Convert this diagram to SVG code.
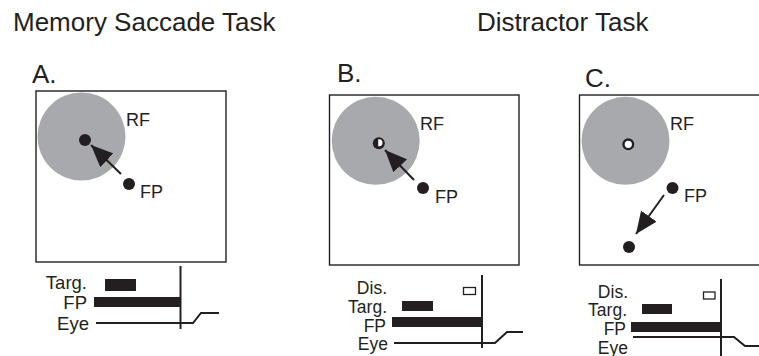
<svg xmlns="http://www.w3.org/2000/svg" width="759" height="356" viewBox="0 0 759 356">
  <style>
    text { font-family: "Liberation Sans", Arial, Helvetica, sans-serif; fill: #231f20; }
    .title { font-size: 26px; }
    .panel { font-size: 26px; }
    .lbl { font-size: 18px; }
    .tl { font-size: 18.5px; text-anchor: end; }
    .tls { font-size: 17.5px; text-anchor: end; }
    .frame { fill: #ffffff; stroke: #231f20; stroke-width: 1.4; }
    .rf { fill: #a7a9ac; }
    .dot { fill: #231f20; }
    .bar { fill: #231f20; }
    .trace { fill: none; stroke: #231f20; stroke-width: 2; }
    .arrow { fill: none; stroke: #231f20; stroke-width: 2; marker-end: url(#head); }
  </style>
  <defs>
    <marker id="head" viewBox="0 0 22 19" refX="22" refY="9.5" markerWidth="22" markerHeight="19" markerUnits="userSpaceOnUse" orient="auto">
      <path d="M0,0 L22,9.5 L0,19 z" fill="#231f20"/>
    </marker>
  </defs>
  <rect width="759" height="356" fill="#ffffff"/>

  <!-- headings -->
  <text class="title" x="13" y="31">Memory Saccade Task</text>
  <text class="title" x="477" y="31">Distractor Task</text>

  <!-- Panel A: memory saccade -->
  <g id="panelA">
    <text class="panel" x="32" y="83">A.</text>
    <rect class="frame" x="36" y="91" width="190" height="171"/>
    <circle class="rf" cx="81.5" cy="136.5" r="44"/>
    <text class="lbl" x="126" y="126">RF</text>
    <circle class="dot" cx="85" cy="140" r="6"/>
    <circle class="dot" cx="129" cy="184" r="6"/>
    <text class="lbl" x="140" y="198">FP</text>
  </g>
  <g id="timingA">
    <text class="tl" x="87" y="289">Targ.</text>
    <text class="tl" x="87" y="308.5">FP</text>
    <text class="tl" x="89" y="330">Eye</text>
    <rect class="bar" x="105" y="279" width="31" height="12"/>
    <rect class="bar" x="94" y="297" width="87" height="10"/>
    <line class="trace" x1="180.5" y1="266" x2="180.5" y2="329"/>
    <polyline class="trace" points="96,323 193,323 201,313 219,313"/>
  </g>

  <!-- Panel B: distractor in RF with target -->
  <g id="panelB">
    <text class="panel" x="337" y="82">B.</text>
    <rect class="frame" x="329.5" y="95" width="189.5" height="170"/>
    <circle class="rf" cx="375.7" cy="140.8" r="44"/>
    <text class="lbl" x="420" y="130">RF</text>
    <circle class="dot" cx="378.8" cy="143.2" r="6"/>
    <path d="M378.2,139.2 h0.8 a3.5,3.5 0 0 1 0,7 h-0.8 z" fill="#ffffff"/>
    <circle class="dot" cx="423" cy="188" r="6"/>
    <text class="lbl" x="435" y="203">FP</text>
  </g>
  <g id="timingB">
    <text class="tls" x="387" y="294">Dis.</text>
    <text class="tls" x="387" y="313">Targ.</text>
    <text class="tls" x="386" y="331.5">FP</text>
    <text class="tls" x="388" y="350">Eye</text>
    <rect x="463.5" y="287.5" width="12" height="7" fill="#ffffff" stroke="#231f20" stroke-width="1.3"/>
    <rect class="bar" x="402" y="301" width="31" height="10"/>
    <rect class="bar" x="392" y="317" width="90" height="10"/>
    <line class="trace" x1="482" y1="275" x2="482" y2="348"/>
    <polyline class="trace" points="394,343 495,343 507,332 523,332"/>
  </g>

  <!-- Panel C: distractor in RF, saccade away -->
  <g id="panelC">
    <text class="panel" x="585" y="87">C.</text>
    <rect class="frame" x="579.5" y="95" width="200" height="170"/>
    <circle class="rf" cx="625.5" cy="140.8" r="44"/>
    <text class="lbl" x="670" y="130">RF</text>
    <circle cx="628.3" cy="144.3" r="4.8" fill="#ffffff" stroke="#231f20" stroke-width="2.4"/>
    <circle class="dot" cx="672.5" cy="188" r="6"/>
    <text class="lbl" x="684" y="202">FP</text>
    <circle class="dot" cx="629" cy="247" r="6"/>
  </g>
  <g id="timingC">
    <text class="tls" x="628" y="298">Dis.</text>
    <text class="tls" x="627" y="316">Targ.</text>
    <text class="tls" x="626" y="335">FP</text>
    <text class="tls" x="628" y="353.5">Eye</text>
    <rect x="703.5" y="292" width="11.5" height="7" fill="#ffffff" stroke="#231f20" stroke-width="1.3"/>
    <rect class="bar" x="642" y="304" width="30" height="10"/>
    <rect class="bar" x="631" y="322" width="90" height="10"/>
    <line class="trace" x1="721" y1="279" x2="721" y2="356"/>
    <polyline class="trace" points="633,337 734,337 745,346 759,346"/>
  </g>

  <!-- saccade arrows -->
  <g id="connectors">
    <line class="arrow" x1="121" y1="174" x2="91" y2="145"/>
    <line class="arrow" x1="414" y1="180" x2="385" y2="150"/>
    <line class="arrow" x1="664" y1="195" x2="636" y2="234"/>
  </g>
</svg>
